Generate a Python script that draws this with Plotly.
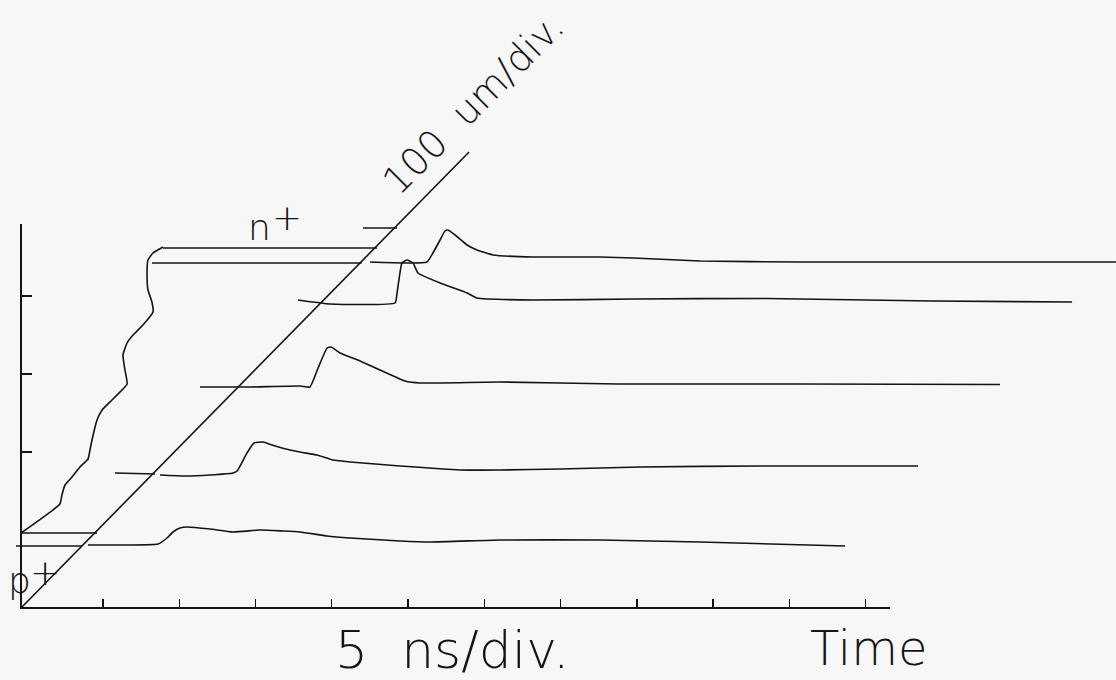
import plotly.graph_objects as go

# ---------------- data (time in ns, signal in a.u.) ----------------
# trace at the p+ side (front); None = pen lift where the depth axis crosses
t1 = [-0.70, 3.63, None, 4.02, 4.81, 8.61, 9.20, 9.59, 10.05, 10.51, 12.02, 13.52,
      15.30, 16.80, 17.92, 19.69, 21.20, 24.47, 26.44, 31.03, 37.59, 44.14, 53.65]
s1 = [61, 61, None, 62, 62, 63, 69, 75, 79, 80, 78, 75, 77, 76, 75, 71, 69, 66, 65,
      67, 67, 65, 61]

t2 = [5.79, 8.41, None, 8.74, 10.38, 12.02, 13.52, 13.79, 14.44, 14.90, 15.49, 16.08,
      16.74, 17.92, 19.03, 20.08, 21.20, 24.47, 28.41, 31.03, 34.96, 40.21, 48.08,
      58.43]
s2 = [134, 133, None, 132, 131, 132, 134, 136, 154, 164, 165, 162, 159, 155, 152,
      147, 145, 141, 137, 137, 138, 140, 141, 141]

t3 = [11.36, 14.64, 17.92, 18.57, 19.10, 19.69, 19.95, 20.54, 21.85, 23.16, 24.80,
      25.78, 31.03, 38.77, 50.70, 63.81]
s3 = [220, 220, 221, 220, 239, 259, 260, 254, 246, 237, 226, 224, 225, 223, 223, 222.5]

t4 = [17.79, 19.88, 24.15, 24.28, 24.60, 24.93, 25.33, 25.65, 27.10, 28.87, 29.52,
      33.19, 39.75, 48.53, 59.35, 68.53]
s4 = [307, 303, 304, 314, 344, 347, 344, 334, 324, 314, 309, 307, 308, 308.5, 306, 305]

# trace at the n+ side (back)
t5 = [8.21, 21.96, None, 22.51, 26.24, 26.63, 27.10, 27.42, 27.62, 28.08, 28.87,
      29.52, 30.57, 33.19, 37.59, 39.75, 44.14, 50.70, 71.41]
s5 = [344, 344, None, 345, 345, 354, 367, 376, 377, 372, 362, 357, 352, 350, 350,
      349, 346, 345, 345]

# junction / depth profile curve on the left
t_prof = [-0.37, 2.18, 2.31, 2.51, 2.97, 3.49, 4.02, 4.15, 4.28, 4.48, 4.61, 4.94,
          5.59, 6.58, 6.44, 6.31, 6.58, 6.97, 7.62, 8.28, 8.21, 7.95, 7.89, 7.95,
          8.28, 8.94]
s_prof = [74, 103, 112, 122, 130, 140, 148, 157, 167, 180, 187, 197, 207, 223, 237,
          252, 264, 272, 282, 295, 305, 317, 330, 347, 354, 360]

# p+ and n+ boundary markers
t_pplus = [-0.37, 4.61]
s_pplus = [74, 74]
t_nplus = [8.94, 22.97]
s_nplus = [359, 359]
t_nmark = [22.05, 24.28]
s_nmark = [379, 379]

# depth axis (100 um/div) drawn obliquely
t_depth = [-0.31, 29.00]
s_depth = [0, 455]

# axis ticks
time_ticks = [5, 10, 15, 20, 25, 30, 35, 40, 45, 50, 55]
signal_ticks = [155, 233, 311]

# ---------------- layout helpers ----------------
W, H = 1116, 680
PX_PER_NS = 15.254
T0_PX = 26.7      # pixel column of t = 0
S0_PX = 607       # pixel row of signal = 0


def t_of(px):
    return (px - T0_PX) / PX_PER_NS


def s_of(py):
    return S0_PX - py


INK = "#141414"
FONT = "DejaVu Sans"

fig = go.Figure()

line_sets = [
    (t_depth, s_depth, "linear"),
    (t_pplus, s_pplus, "linear"),
    (t_nplus, s_nplus, "linear"),
    (t_nmark, s_nmark, "linear"),
    (t_prof, s_prof, "spline"),
    (t1, s1, "spline"),
    (t2, s2, "spline"),
    (t3, s3, "spline"),
    (t4, s4, "spline"),
    (t5, s5, "spline"),
]
for xs, ys, shape in line_sets:
    fig.add_trace(go.Scatter(
        x=xs, y=ys, mode="lines", connectgaps=False,
        line=dict(color=INK, width=1.6, shape=shape, smoothing=0.4),
        hoverinfo="skip", showlegend=False, xaxis="x", yaxis="y"))

# invisible trace to activate the framed axes subplot
fig.add_trace(go.Scatter(x=[time_ticks[0]], y=[signal_ticks[0]], mode="markers",
                         marker=dict(opacity=0), hoverinfo="skip",
                         showlegend=False, xaxis="x2", yaxis="y2"))

ax_x0, ax_x1 = 22, 890
ax_y0, ax_y1 = 607, 224

fig.update_layout(
    width=W, height=H, autosize=False,
    margin=dict(l=0, r=0, t=0, b=0),
    paper_bgcolor="#f7f7f7", plot_bgcolor="rgba(0,0,0,0)",
    xaxis=dict(domain=[0, 1], range=[t_of(0), t_of(W)], visible=False,
               fixedrange=True),
    yaxis=dict(domain=[0, 1], range=[s_of(H), s_of(0)], visible=False,
               fixedrange=True),
    xaxis2=dict(domain=[ax_x0 / W, ax_x1 / W], range=[t_of(ax_x0), t_of(ax_x1)],
                anchor="y2", showline=True, linecolor=INK, linewidth=1.6,
                ticks="inside", ticklen=8, tickwidth=1.3, tickcolor=INK,
                tickvals=time_ticks, showticklabels=False, showgrid=False,
                zeroline=False, fixedrange=True),
    yaxis2=dict(domain=[(H - ax_y0) / H, (H - ax_y1) / H], range=[0, s_of(ax_y1)],
                anchor="x2", showline=True, linecolor=INK, linewidth=1.6,
                ticks="inside", ticklen=10, tickwidth=1.3, tickcolor=INK,
                tickvals=signal_ticks, showticklabels=False, showgrid=False,
                zeroline=False, fixedrange=True),
)


def label(text, px, py, size, angle=0):
    fig.add_annotation(text=text, x=px / W, y=1 - py / H, xref="paper",
                       yref="paper", xanchor="center", yanchor="middle",
                       showarrow=False, textangle=angle,
                       font=dict(family=FONT, size=size, color=INK, weight=200))


label("5  ns/div.", 452, 649.7, 52)
label("Time", 868, 648.4, 48)
label("100  um/div.", 473, 104, 38, angle=-45)
label("n", 259, 227.5, 36)
label("+", 286.5, 217.7, 36)
label("p", 19, 580.5, 36)
label("+", 44.5, 572.2, 36)

fig.write_html("out.html",
               config={"displayModeBar": False, "staticPlot": True},
               post_script="document.body.style.margin='0';"
                           "document.body.style.overflow='hidden';"
                           "document.body.style.background='#f7f7f7';")
